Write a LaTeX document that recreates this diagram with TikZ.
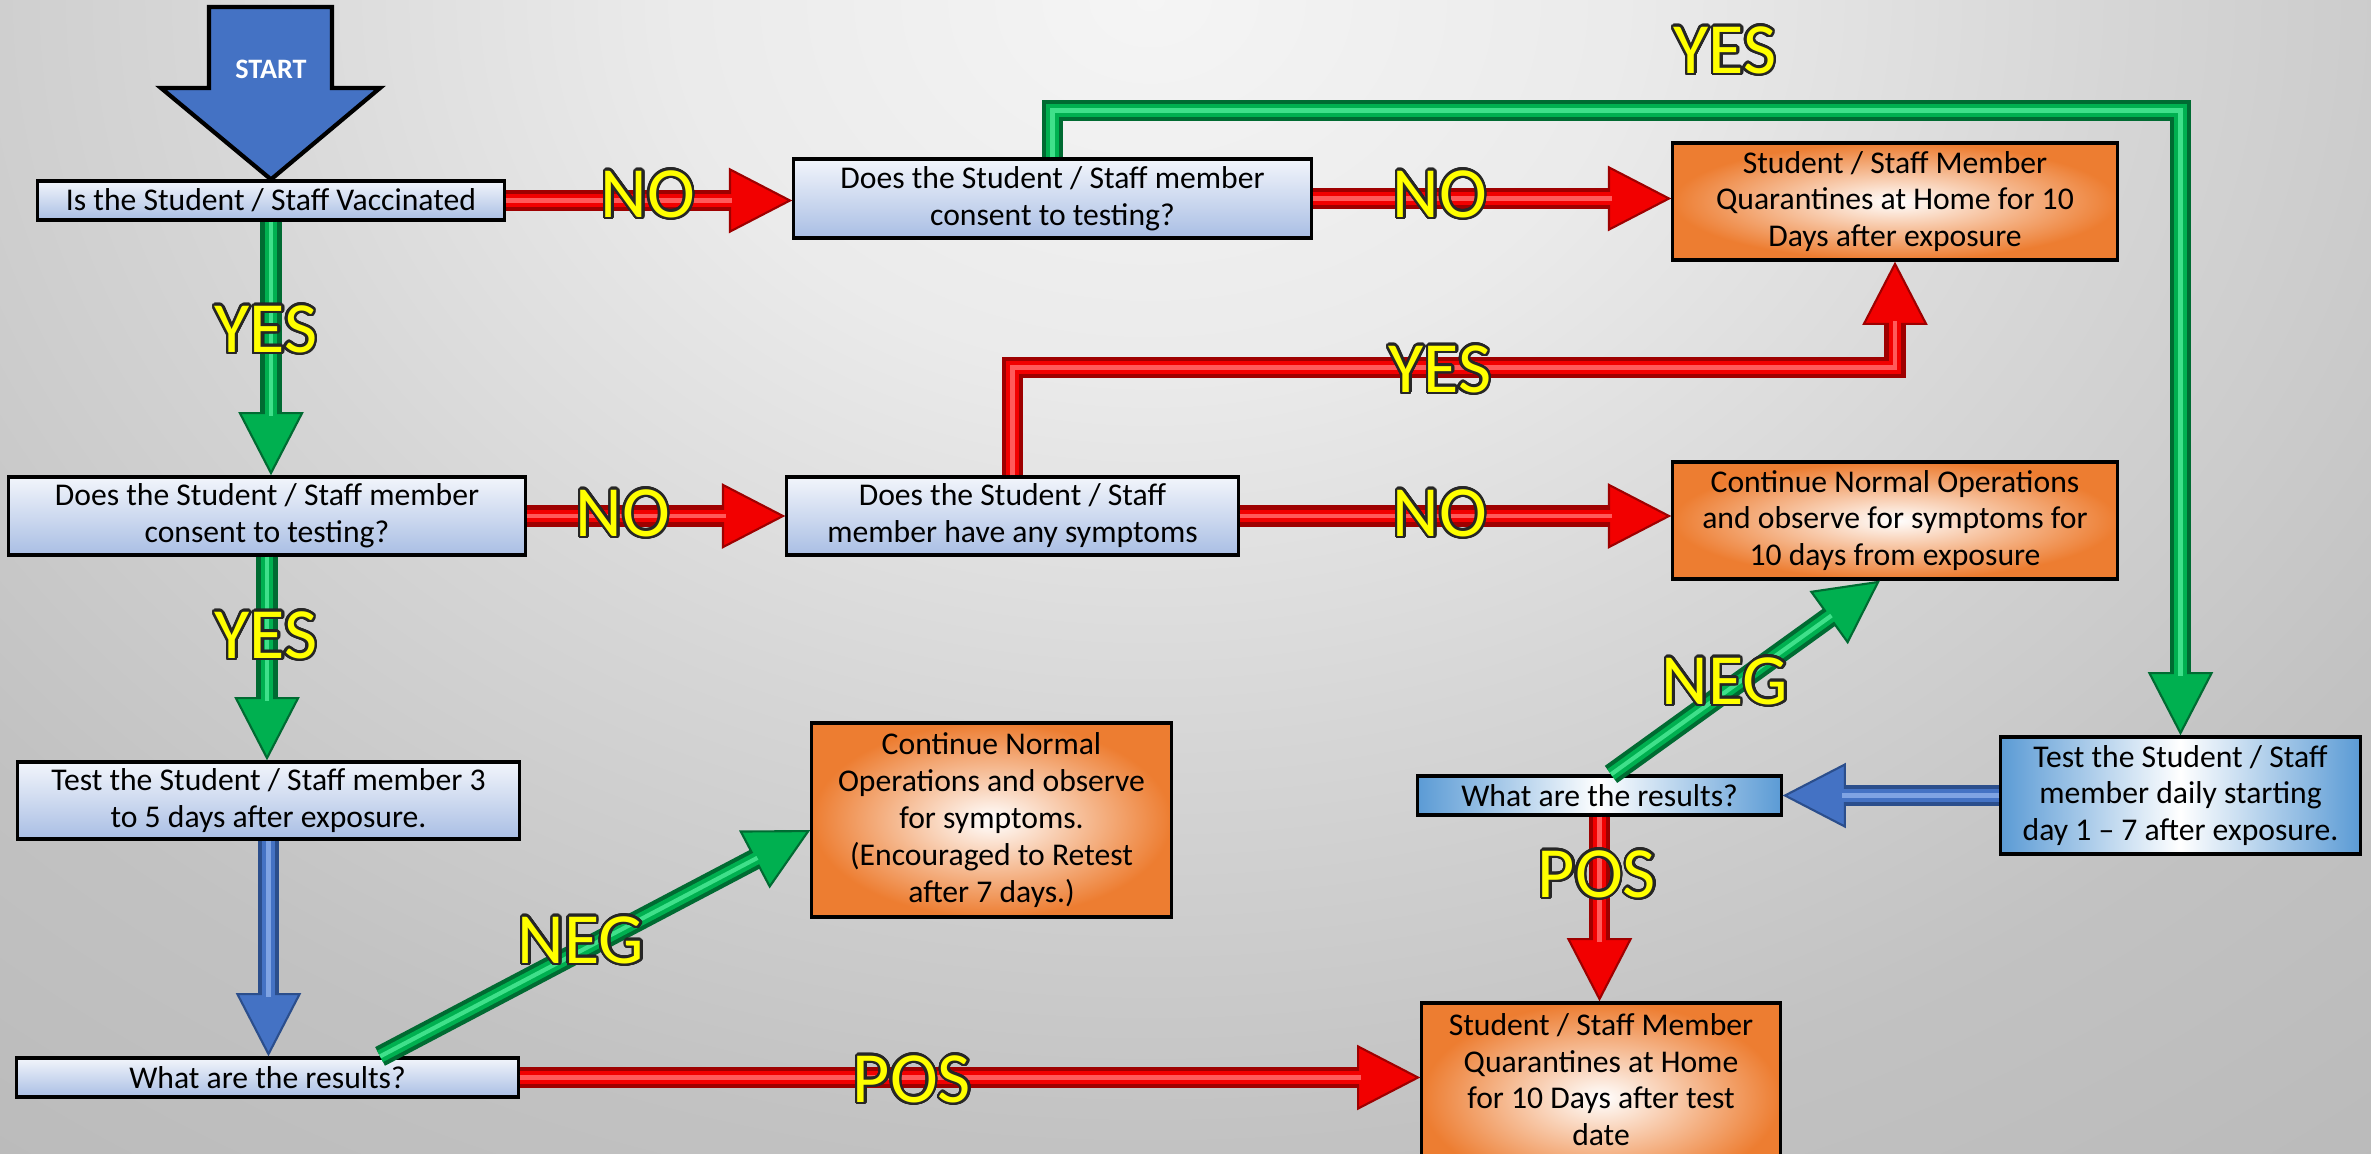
\documentclass[tikz,border=0pt]{standalone}
\usepackage{fontspec}
\setmainfont{Carlito}
\usepackage[copies]{contour}
\usetikzlibrary{arrows.meta,calc}
\definecolor{redD}{HTML}{9E0000}
\definecolor{redM}{HTML}{F20000}
\definecolor{redL}{HTML}{FF5A5A}
\definecolor{grnD}{HTML}{006B32}
\definecolor{grnM}{HTML}{00B050}
\definecolor{grnL}{HTML}{3FE08A}
\definecolor{bluD}{HTML}{2B4E8C}
\definecolor{bluM}{HTML}{4472C4}
\definecolor{bluL}{HTML}{7FA3E3}
\definecolor{boxTop}{HTML}{F2F5FB}
\definecolor{boxBot}{HTML}{A9BEE4}
\definecolor{orng}{HTML}{ED7D31}
\definecolor{skyb}{HTML}{5B9BD5}
\definecolor{labY}{HTML}{FFFF00}
\contourlength{0.7pt}
\contournumber{32}
\pgfdeclareradialshading{bgsh}{\pgfpoint{0bp}{0bp}}{color(0bp)=(black!4); color(8bp)=(black!8); color(16bp)=(black!16); color(25bp)=(black!24); color(35bp)=(black!28); color(50bp)=(black!28)}
\begin{document}
\begin{tikzpicture}[x=0.01cm,y=-0.01cm,
  box/.style={draw=black, line width=0.9pt, inner sep=0pt, align=center, font=\fontsize{9}{10.5}\selectfont, text=black},
  qbox/.style={box, top color=boxTop, bottom color=boxBot},
  obox/.style={box, inner color=white, outer color=orng},
  hbox/.style={box, left color=skyb, right color=skyb, middle color=white},
  lab/.style={inner sep=0pt, text=labY, font=\fontsize{20.5}{20.5}\selectfont, text depth=0pt},
  fat/.style n args={3}{draw=#1, line width=6pt, line join=miter, -{Triangle[length=18pt,width=18.5pt,line width=0.6pt,fill=#2]},
     postaction={draw=#2, line width=3.6pt, -, shorten >=17pt},
     postaction={draw=#3, line width=1.2pt, -, shorten >=17pt}},
  redarr/.style={fat={redD}{redM}{redL}},
  grnarr/.style={fat={grnD}{grnM}{grnL}},
  bluarr/.style={fat={bluD}{bluM}{bluL}},
  startarrow/.style={draw=black, line width=1.2pt, fill=bluM, line join=miter}
]
\useasboundingbox (0,0) rectangle (2371,1154);
\begin{scope}
\clip (0,0) rectangle (2371,1154);
\shade[shading=bgsh] (-350,-1154) rectangle (2650,1154);

% boxes
\node[qbox, minimum width=4.66cm, minimum height=0.39cm] (b1) at (271,200.5) {Is the Student / Staff Vaccinated};
\node[qbox, minimum width=5.17cm, minimum height=0.79cm] (b2) at (1052.5,198.5) {Does the Student / Staff member\\consent to testing?};
\node[obox, minimum width=4.44cm, minimum height=1.17cm] (b3) at (1895,201.5) {Student / Staff Member\\Quarantines at Home for 10\\Days after exposure};
\node[qbox, minimum width=5.16cm, minimum height=0.78cm] (b4) at (267,516) {Does the Student / Staff member\\consent to testing?};
\node[qbox, minimum width=4.51cm, minimum height=0.78cm] (b5) at (1012.5,516) {Does the Student / Staff\\member have any symptoms};
\node[obox, minimum width=4.44cm, minimum height=1.17cm] (b6) at (1895,520.5) {Continue Normal Operations\\and observe for symptoms for\\10 days from exposure};
\node[qbox, minimum width=5.01cm, minimum height=0.77cm] (b7) at (268.5,800.5) {Test the Student / Staff member 3\\to 5 days after exposure.};
\node[qbox, minimum width=5.01cm, minimum height=0.39cm] (b8) at (267.5,1077.5) {What are the results?};
\node[obox, minimum width=3.59cm, minimum height=1.94cm] (b9) at (991.5,820) {Continue Normal\\Operations and observe\\for symptoms.\\(Encouraged to Retest\\after 7 days.)};
\node[obox, minimum width=3.58cm, minimum height=1.90cm] (b10) at (1601,1098) {Student / Staff Member\\Quarantines at Home\\for 10 Days after test\\date\\\mbox{}};
\node[hbox, minimum width=3.59cm, minimum height=1.17cm] (b11) at (2180.5,795.5) {Test the Student / Staff\\member daily starting\\day 1 -- 7 after exposure.};
\node[hbox, minimum width=3.63cm, minimum height=0.39cm] (b12) at (1599.5,795.5) {What are the results?};

% start arrow
\draw[startarrow] (209,7) -- (332,7) -- (332,88) -- (380,88) -- (b1.north) -- (161,88) -- (209,88) -- cycle;
\node[text=white, font=\bfseries\fontsize{8}{8}\selectfont] (start) at (271,69) {START};

% connectors
\draw[grnarr] (b1.south) -- (b1.south |- b4.north);
\draw[grnarr] (b4.south) -- (b4.south |- b7.north);
\draw[bluarr] (b7.south) -- (b7.south |- b8.north);
\draw[redarr] (b1.east) -- (b1.east -| b2.west);
\draw[redarr] (b2.east) -- (b2.east -| b3.west);
\draw[redarr] (b4.east) -- (b4.east -| b5.west);
\draw[redarr] (b5.east) -- (b5.east -| b6.west);
\draw[grnarr] (b2.north) -- ++(0,-47) -| (b11.north);
\draw[redarr] (b5.north) -- ++(0,-108) -| (b3.south);
\draw[grnarr] ([xshift=1.125cm]b8.north) -- ([yshift=-0.1cm]b9.west);
\draw[redarr] (b8.east) -- (b8.east -| b10.west);
\draw[bluarr] (b11.west) -- (b12.east);
\draw[grnarr] ([xshift=0.115cm]b12.north) -- ([xshift=-0.15cm]b6.south);
\draw[redarr] (b12.south) -- (b12.south |- b10.north);

% labels
\node[lab] (l1) at (1725,50) {\contour{black!85}{YES}};
\node[lab] (l2) at (648,194) {\contour{black!85}{NO}};
\node[lab] (l3) at (1440,194) {\contour{black!85}{NO}};
\node[lab] (l4) at (266,329) {\contour{black!85}{YES}};
\node[lab] (l5) at (1440,369) {\contour{black!85}{YES}};
\node[lab] (l6) at (623,513) {\contour{black!85}{NO}};
\node[lab] (l7) at (1440,513) {\contour{black!85}{NO}};
\node[lab] (l8) at (266,635) {\contour{black!85}{YES}};
\node[lab] (l9) at (581,940) {\contour{black!85}{NEG}};
\node[lab] (l10) at (912,1079) {\contour{black!85}{POS}};
\node[lab] (l11) at (1725,681) {\contour{black!85}{NEG}};
\node[lab] (l12) at (1597,874) {\contour{black!85}{POS}};
\end{scope}
\end{tikzpicture}
\end{document}
